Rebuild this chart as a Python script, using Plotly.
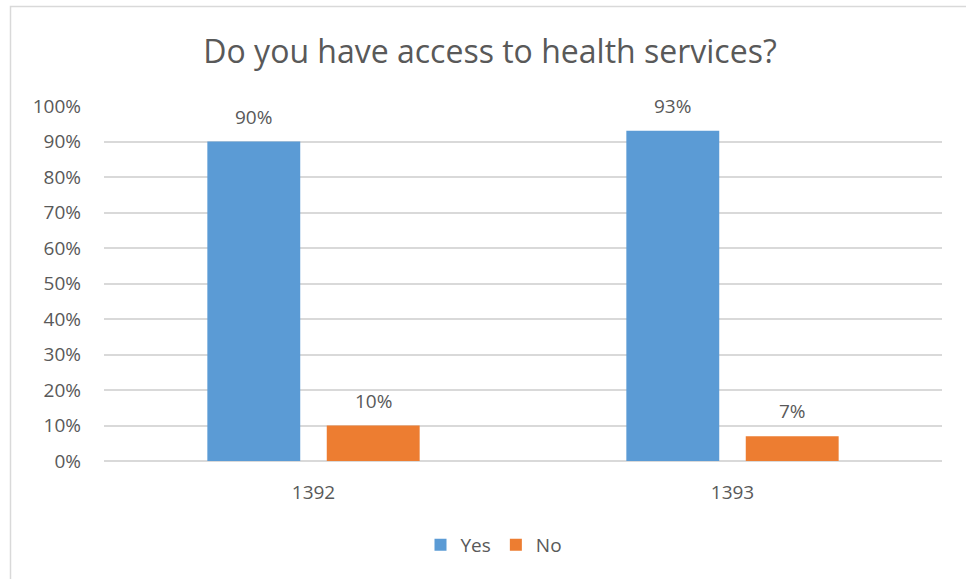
import plotly.graph_objects as go

# Survey answers by year
years = ["1392", "1393"]
yes_share = [90, 93]
no_share = [10, 7]
series_names = ["Yes", "No"]
tick_values = [0, 10, 20, 30, 40, 50, 60, 70, 80, 90, 100]
tick_labels = [f"{v}%" for v in tick_values]

BLUE = "#5B9BD5"
ORANGE = "#ED7D31"
TEXT = "#595959"
GRID = "#D9D9D9"
FONT = "Open Sans"

W, H = 966, 579
L, R, T, B = 104, 24, 106, 118
plot_w = W - L - R
plot_h = H - T - B

BARGAP = 0.43
BARGROUPGAP = 0.222

fig = go.Figure()
fig.add_trace(go.Bar(x=years, y=yes_share, name=series_names[0],
                     marker=dict(color=BLUE, line=dict(width=0))))
fig.add_trace(go.Bar(x=years, y=no_share, name=series_names[1],
                     marker=dict(color=ORANGE, line=dict(width=0))))

# value labels above each bar, shifted to the bar's slot inside its group
# (category axis: annotation x is the category index)
cat_w = plot_w / len(years)
slot = cat_w * (1 - BARGAP) / 2
annotations = []
for values, shift in ((yes_share, -slot / 2), (no_share, slot / 2)):
    for i, v in enumerate(values):
        annotations.append(dict(
            x=i, y=v, xref="x", yref="y", text=f"{v}%", showarrow=False,
            xshift=shift, yshift=25, yanchor="middle",
            font=dict(family=FONT, size=19, color=TEXT)))

def px_x(px):
    return (px - L) / plot_w

def px_y(py):
    return (H - B - py) / plot_h

# light chart-area frame
shapes = [dict(type="rect", xref="paper", yref="paper",
               x0=px_x(10.5), x1=px_x(990), y0=px_y(600), y1=px_y(6.5),
               line=dict(color=GRID, width=1.5), fillcolor="rgba(0,0,0,0)",
               layer="below")]

fig.update_layout(
    width=W, height=H,
    margin=dict(l=L, r=R, t=T, b=B, pad=0),
    paper_bgcolor="white", plot_bgcolor="white",
    barmode="group", bargap=BARGAP, bargroupgap=BARGROUPGAP,
    title=dict(text="Do you have access to health services?",
               x=px_x(490), xref="paper", xanchor="center",
               y=1 - 52 / H, yref="container", yanchor="middle",
               font=dict(family=FONT, size=32, color=TEXT, weight=400)),
    font=dict(family=FONT, color=TEXT),
    xaxis=dict(type="category", range=[-0.5, len(years) - 0.5],
               showgrid=False, showline=False, ticks="",
               tickfont=dict(family=FONT, size=19, color=TEXT),
               ticklabelstandoff=18),
    yaxis=dict(range=[0, 100], tickvals=tick_values, ticktext=tick_labels,
               showgrid=True, gridcolor=GRID, gridwidth=1.5,
               zeroline=True, zerolinecolor=GRID, zerolinewidth=1.5,
               showline=False, ticks="",
               tickfont=dict(family=FONT, size=19, color=TEXT),
               ticklabelstandoff=22),
    legend=dict(orientation="h", x=px_x(494), xanchor="center",
                y=px_y(545), yanchor="middle",
                font=dict(family=FONT, size=19, color=TEXT),
                itemwidth=30, traceorder="normal"),
    annotations=annotations,
    shapes=shapes,
)

fig.write_html("out.html")
